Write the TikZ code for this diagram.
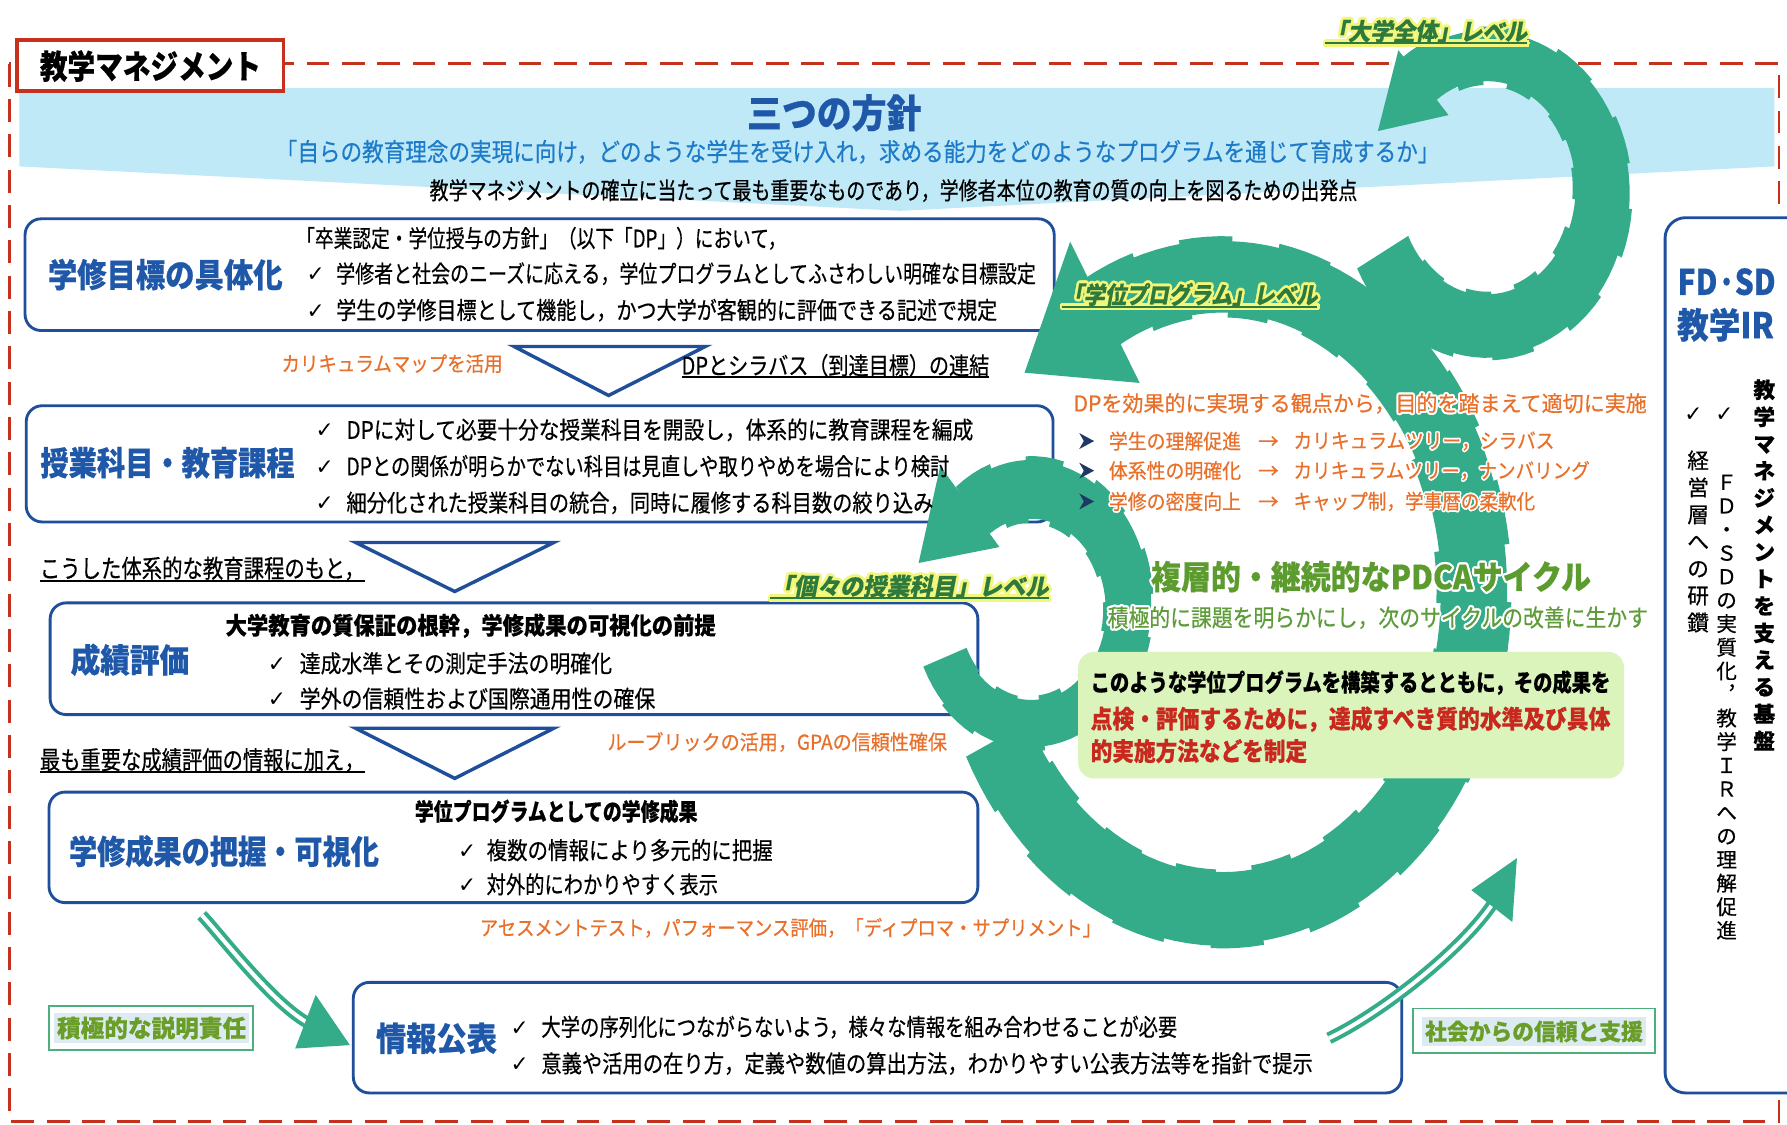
\documentclass[tikz,border=0pt]{standalone}
\usepackage{fontspec}
\usepackage{graphicx}
\setmainfont[FakeBold=0.5]{Noto Sans CJK JP}
\newfontfamily\dvfont{DejaVu Sans}
\newfontfamily\slfont[FakeSlant=0.2,FakeBold=0.5]{Noto Sans CJK JP}
\usetikzlibrary{calc}

\definecolor{framered}{HTML}{C8301E}
\definecolor{bandblue}{HTML}{C0E9F8}
\definecolor{boxblue}{HTML}{1F4E9A}
\definecolor{lblblue}{HTML}{1F58A8}
\definecolor{subblue}{HTML}{1E7BC8}
\definecolor{orng}{HTML}{E8702A}
\definecolor{ringg}{HTML}{34AC8A}
\definecolor{lvlgreen}{HTML}{2E7A3C}
\definecolor{glowy}{HTML}{F2F67A}
\definecolor{pdcag}{HTML}{5C9B2E}
\definecolor{pdcag2}{HTML}{5E9C3A}
\definecolor{gboxfill}{HTML}{DAF4BC}
\definecolor{redtxt}{HTML}{C8281E}
\definecolor{accborder}{HTML}{4CAF7D}
\definecolor{accfill}{HTML}{DCEBF1}
\definecolor{acctext}{HTML}{6A9E28}
\definecolor{navyc}{HTML}{1F3864}

\newcommand\setfs[1]{\fontsize{#1}{#1}\selectfont}
\newcommand\cjkstrut{\rule[-0.12em]{0pt}{1em}}
\newlength\fitlen
\newcommand\fitto[2]{\settowidth\fitlen{#2}\pgfmathsetmacro\fitratio{#1/\fitlen}\scalebox{\fitratio}[1]{#2}}
\newsavebox\ulbox
\newcommand\ulx[1]{\sbox\ulbox{#1}\rlap{\rule[-0.16em]{\wd\ulbox}{0.075em}}\usebox\ulbox}
\newcommand\halotext[3]{\leavevmode\foreach \hang in {0,30,...,330}{%
\pgfmathsetlengthmacro\hdx{#2*cos(\hang)}%
\pgfmathsetlengthmacro\hdy{#2*sin(\hang)}%
\rlap{\hspace*{\hdx}\raisebox{\hdy}{\textcolor{#1}{#3}}}}#3}

% annular band made of slightly offset segments
\newcommand\ringsegs[3]{%
  \pgfmathtruncatemacro\rgN{max(1,round((#2-(#1))/#3))}%
  \pgfmathsetmacro\rgD{(#2-(#1))/\rgN}%
  \foreach \k in {1,...,\rgN}{%
    \pgfmathsetmacro\rgLo{#1+(\k-1)*\rgD}%
    \pgfmathsetmacro\rgHi{\rgLo+\rgD+0.6}%
    \pgfmathsetmacro\rgOff{{0,2.5,-1.5,1.8,-2.5,1.2,-1,2.2}[int(mod(\k,8))]}%
    \pgfmathsetmacro\rgRO{\orx+\rgOff}\pgfmathsetmacro\rgRP{\ory+\rgOff}%
    \pgfmathsetmacro\rgRI{\irx+\rgOff}\pgfmathsetmacro\rgRJ{\iry+\rgOff}%
    \fill[ringg] plot[domain=\rgLo:\rgHi, samples=5, variable=\t] ({\ocx+\rgRO*cos(\t)},{\ocy+\rgRP*sin(\t)})
      -- plot[domain=\rgLo:\rgHi, samples=5, variable=\t] ({\icx+\rgRI*cos(\rgLo+\rgHi-\t)},{\icy+\rgRJ*sin(\rgLo+\rgHi-\t)}) -- cycle;
  }}

\begin{document}
\begin{tikzpicture}[x=1pt,y=-1pt,
  tx/.style={inner sep=0pt, outer sep=0pt, execute at begin node={\cjkstrut}},
  boxb/.style={draw=boxblue, line width=2.5pt, rounded corners=14pt, fill=white, inner sep=0pt, outer sep=0pt},
  tri/.style={draw=boxblue, line width=3pt, fill=white, line join=miter},
  lbl/.style={tx, text=lblblue, font=\setfs{29}\bfseries},
  bodyw/.style={tx, anchor=west, font=\setfs{21}},
  hdw/.style={tx, anchor=west, font=\setfs{21}\bfseries},
  ckm/.style={tx, font=\dvfont\setfs{19}},
  org/.style={tx, anchor=west, text=orng, font=\setfs{18}},
  lvl/.style={tx, anchor=west, text=lvlgreen, font=\slfont\setfs{21}\bfseries},
  dbl/.style={draw=ringg, line width=3.5pt, double=white, double distance=3.5pt},
  accbox/.style={draw=accborder, line width=1.5pt, fill=white, inner sep=0pt},
  acctx/.style={tx, fill=accfill, inner sep=2.5pt, text=acctext},
]
\useasboundingbox (0,0) rectangle (1568,987);
\fill[white] (0,0) rectangle (1568,987);

% light blue band
\fill[bandblue] (17,77) -- (1557,77) -- (1557,146) -- (790,185) -- (17,146) -- cycle;

% dashed frame
\draw[framered, line width=2.5pt, dash pattern=on 20pt off 11pt] (8,56) rectangle (1561,984);

% boxes
\node[boxb, minimum width=903pt, minimum height=98pt] (b1) at (473.5,241) {};
\node[boxb, minimum width=901pt, minimum height=102pt] (b2) at (473.5,407) {};
\node[boxb, minimum width=814pt, minimum height=98pt] (b3) at (451,578) {};
\node[boxb, minimum width=815pt, minimum height=97pt] (b4) at (450.5,743.5) {};
\node[boxb, minimum width=920pt, minimum height=97pt] (b5) at (770,910.5) {};
\node[boxb, rounded corners=18pt, minimum width=125pt, minimum height=768pt] (rb) at (1523.5,575) {};

% triangles
\draw[tri] (451,304) -- (619,304) -- (534,347) -- cycle;
\draw[tri] (312,476) -- (486,476) -- (399,519) -- cycle;
\draw[tri] (312,639) -- (486,639) -- (399,683) -- cycle;

% green loops
% loop B (degree programme)
\def\ocx{1073}\def\ocy{520}\def\orx{252}\def\ory{311}
\def\icx{1073}\def\icy{520}\def\irx{190}\def\iry{244}
\ringsegs{-118.8}{152}{10}
\fill[ringg] (899,327) -- (939,212) -- (1000,336) -- cycle;
% loop C (individual courses)
\def\ocx{905}\def\ocy{530}\def\orx{105}\def\ory{128}
\def\icx{905}\def\icy{535}\def\irx{63}\def\iry{78}
\ringsegs{-128}{154}{18}
\fill[ringg] (806,494) -- (825,409) -- (877,480) -- cycle;
% loop A (whole university)
\def\ocx{1305}\def\ocy{170}\def\orx{125}\def\ory{145}
\def\icx{1305}\def\icy{165}\def\irx{75}\def\iry{92}
\ringsegs{-126}{153}{16}
\fill[ringg] (1209,115) -- (1227,44) -- (1271,101) -- cycle;

% green box
\node[fill=gboxfill, rounded corners=14pt, minimum width=479pt, minimum height=111pt, inner sep=0pt] (gbox) at (1185.5,627.5) {};

% header texts
\node[tx, text=lblblue, font=\setfs{34}\bfseries] (ttl3) at (732,99) {\fitto{153}{三つの方針}};
\node[tx, text=subblue, font=\setfs{22}] (sub) at (752.5,133) {\fitto{1021}{「自らの教育理念の実現に向け，どのような学生を受け入れ，求める能力をどのようなプログラムを通じて育成するか」}};
\node[tx, font=\setfs{21}] (sub2) at (784,167) {\fitto{814}{教学マネジメントの確立に当たって最も重要なものであり，学修者本位の教育の質の向上を図るための出発点}};

% box 1
\node[lbl] (l1) at (145,241) {\fitto{206}{学修目標の具体化}};
\node[bodyw] (b1a) at (260,209) {\fitto{430}{「卒業認定・学位授与の方針」（以下「DP」）において，}};
\node[ckm] (c11) at (277,240) {✓};
\node[bodyw] (b1b) at (295,240) {\fitto{614}{学修者と社会のニーズに応える，学位プログラムとしてふさわしい明確な目標設定}};
\node[ckm] (c12) at (277,272) {✓};
\node[bodyw] (b1c) at (295,272) {\fitto{580}{学生の学修目標として機能し，かつ大学が客観的に評価できる記述で規定}};

% between 1 and 2
\node[org] (o1) at (247,319) {\fitto{194}{カリキュラムマップを活用}};
\node[bodyw] (u1) at (598,321) {\fitto{270}{\ulx{DPとシラバス（到達目標）の連結}}};

% box 2
\node[lbl] (l2) at (147,406) {\fitto{223}{授業科目・教育課程}};
\node[ckm] (c21) at (285,377) {✓};
\node[bodyw] (b2a) at (304,377) {\fitto{550}{DPに対して必要十分な授業科目を開設し，体系的に教育課程を編成}};
\node[ckm] (c22) at (285,409) {✓};
\node[bodyw] (b2b) at (304,409) {\fitto{529}{DPとの関係が明らかでない科目は見直しや取りやめを場合により検討}};
\node[ckm] (c23) at (285,441) {✓};
\node[bodyw] (b2c) at (304,441) {\fitto{515}{細分化された授業科目の統合，同時に履修する科目数の絞り込み}};

\node[bodyw, font=\setfs{22}] (u2) at (35,499) {\fitto{285}{\ulx{こうした体系的な教育課程のもと，}}};

% box 3
\node[lbl] (l3) at (114,579) {\fitto{104}{成績評価}};
\node[hdw] (b3a) at (198,549) {\fitto{430}{大学教育の質保証の根幹，学修成果の可視化の前提}};
\node[ckm] (c31) at (243,582) {✓};
\node[bodyw] (b3b) at (263,582) {\fitto{274}{達成水準とその測定手法の明確化}};
\node[ckm] (c32) at (243,613) {✓};
\node[bodyw] (b3c) at (263,613) {\fitto{312}{学外の信頼性および国際通用性の確保}};

\node[bodyw, font=\setfs{22}] (u3) at (35,667) {\fitto{285}{\ulx{最も重要な成績評価の情報に加え，}}};
\node[org] (o2) at (533,651) {\fitto{298}{ルーブリックの活用，GPAの信頼性確保}};

% box 4
\node[lbl] (l4) at (196.5,747) {\fitto{272}{学修成果の把握・可視化}};
\node[hdw] (b4a) at (364,712) {\fitto{248}{学位プログラムとしての学修成果}};
\node[ckm] (c41) at (410,746) {✓};
\node[bodyw] (b4b) at (427,746) {\fitto{251}{複数の情報により多元的に把握}};
\node[ckm] (c42) at (410,776) {✓};
\node[bodyw] (b4c) at (427,776) {\fitto{203}{対外的にわかりやすく表示}};

\node[org] (o3) at (421,814) {\fitto{545}{アセスメントテスト，パフォーマンス評価，「ディプロマ・サプリメント」}};

% box 5
\node[lbl] (l5) at (383,911) {\fitto{106}{情報公表}};
\node[ckm] (c51) at (456,901) {✓};
\node[bodyw] (b5a) at (475,901) {\fitto{558}{大学の序列化につながらないよう，様々な情報を組み合わせることが必要}};
\node[ckm] (c52) at (456,933) {✓};
\node[bodyw] (b5b) at (475,933) {\fitto{677}{意義や活用の在り方，定義や数値の算出方法，わかりやすい公表方法等を指針で提示}};

% right-middle texts
\node[org, font=\setfs{19}] (dp) at (942,354) {\fitto{503}{\halotext{white}{1.8pt}{DPを効果的に実現する観点から，目的を踏まえて適切に実施}}};
\foreach \yy in {387,413,440} \fill[navyc] (947,\yy-7) -- (960,\yy) -- (947,\yy+7) -- (951,\yy) -- cycle;
\node[org] (i1) at (973,387) {\fitto{116}{\halotext{white}{1.5pt}{学生の理解促進}}};
\node[org] (a1) at (1104,387) {\halotext{white}{1.5pt}{→}};
\node[org] (j1) at (1135,387) {\fitto{229}{\halotext{white}{1.5pt}{カリキュラムツリー，シラバス}}};
\node[org] (i2) at (973,413) {\fitto{116}{\halotext{white}{1.5pt}{体系性の明確化}}};
\node[org] (a2) at (1104,413) {\halotext{white}{1.5pt}{→}};
\node[org] (j2) at (1135,413) {\fitto{260}{\halotext{white}{1.5pt}{カリキュラムツリー，ナンバリング}}};
\node[org] (i3) at (973,440) {\fitto{116}{\halotext{white}{1.5pt}{学修の密度向上}}};
\node[org] (a3) at (1104,440) {\halotext{white}{1.5pt}{→}};
\node[org] (j3) at (1135,440) {\fitto{212}{\halotext{white}{1.5pt}{キャップ制，学事暦の柔軟化}}};

\node[tx, text=pdcag, font=\setfs{29}\bfseries] (pdca) at (1203,506) {\fitto{386}{\halotext{white}{2pt}{複層的・継続的なPDCAサイクル}}};
\node[tx, text=pdcag2, font=\setfs{21}] (pdca2) at (1209,542) {\fitto{474}{\halotext{white}{2pt}{積極的に課題を明らかにし，次のサイクルの改善に生かす}}};

\node[hdw] (g1) at (957,599) {\fitto{456}{このような学位プログラムを構築するとともに，その成果を}};
\node[hdw, text=redtxt, font=\setfs{22}\bfseries] (g2) at (957,631) {\fitto{456}{点検・評価するために，達成すべき質的水準及び具体}};
\node[hdw, text=redtxt, font=\setfs{22}\bfseries] (g3) at (957,659) {\fitto{190}{的実施方法などを制定}};

% level labels
\node[lvl] (lvA) at (1163,28) {\fitto{177}{\halotext{glowy}{2.5pt}{\ulx{「大学全体」レベル}}}};
\node[lvl] (lvB) at (932,259) {\fitto{224}{\halotext{glowy}{2.5pt}{\ulx{「学位プログラム」レベル}}}};
\node[lvl] (lvC) at (676,515) {\fitto{244}{\halotext{glowy}{2.5pt}{\ulx{「個々の授業科目」レベル}}}};

% accountability / trust boxes
\node[accbox, minimum width=179pt, minimum height=38pt] (accb) at (132.5,902) {};
\node[acctx, font=\setfs{21}\bfseries] (acct) at (133,902) {\fitto{166}{積極的な説明責任}};
\node[accbox, minimum width=212pt, minimum height=39pt] (socb) at (1346,904.5) {};
\node[acctx, font=\setfs{20}\bfseries] (soct) at (1346,905) {\fitto{191}{社会からの信頼と支援}};

% right box contents
\node[tx, text=lblblue, font=\setfs{31}\bfseries] (fdsd) at (1515,247) {\fitto{86}{FD·SD}};
\node[tx, text=lblblue, font=\setfs{31}\bfseries] (ir) at (1514,285) {\fitto{85}{教学IR}};
\foreach \c [count=\k] in {教,学,マ,ネ,ジ,メ,ン,ト,を,支,え,る,基,盤}
  \node[tx, font=\setfs{19}\bfseries] (va\k) at (1548,{342+23.7*(\k-1)}) {\c};
\node[ckm, font=\dvfont\bfseries\setfs{19}] (vc2) at (1513,363) {✓};
\node[ckm, font=\dvfont\bfseries\setfs{19}] (vc3) at (1486,363) {✓};
\foreach \c [count=\k] in {Ｆ,Ｄ,・,Ｓ,Ｄ,の,実,質,化,︐,教,学,Ｉ,Ｒ,へ,の,理,解,促,進}
  \node[tx, font=\setfs{18}] (vb\k) at (1515,{423+20.7*(\k-1)}) {\c};
\foreach \c [count=\k] in {経,営,層,へ,の,研,鑽}
  \node[tx, font=\setfs{19}] (vd\k) at (1490,{404+23.7*(\k-1)}) {\c};

% title box
\node[draw=framered, line width=3pt, fill=white, minimum width=234pt, minimum height=45pt, inner sep=0pt] (tbox) at (132,57.5) {};
\node[tx, font=\setfs{29}\bfseries] (ttl) at (132,58) {\fitto{194}{教学マネジメント}};

% double arrows
\coordinate (da1) at (177,803);
\coordinate (da2) at (272,898.5);
\draw[dbl] (da1) .. controls (194,821) and (241,883) .. (da2);
\fill[ringg] (277,873) -- (307,917) -- (259,920) -- cycle;
\coordinate (db1) at (1166,911);
\coordinate (db2) at (1311,791);
\draw[dbl] (db1) .. controls (1216,887) and (1287,829) .. (db2);
\fill[ringg] (1291,781) -- (1331,753) -- (1327,809) -- cycle;
\end{tikzpicture}
\end{document}
